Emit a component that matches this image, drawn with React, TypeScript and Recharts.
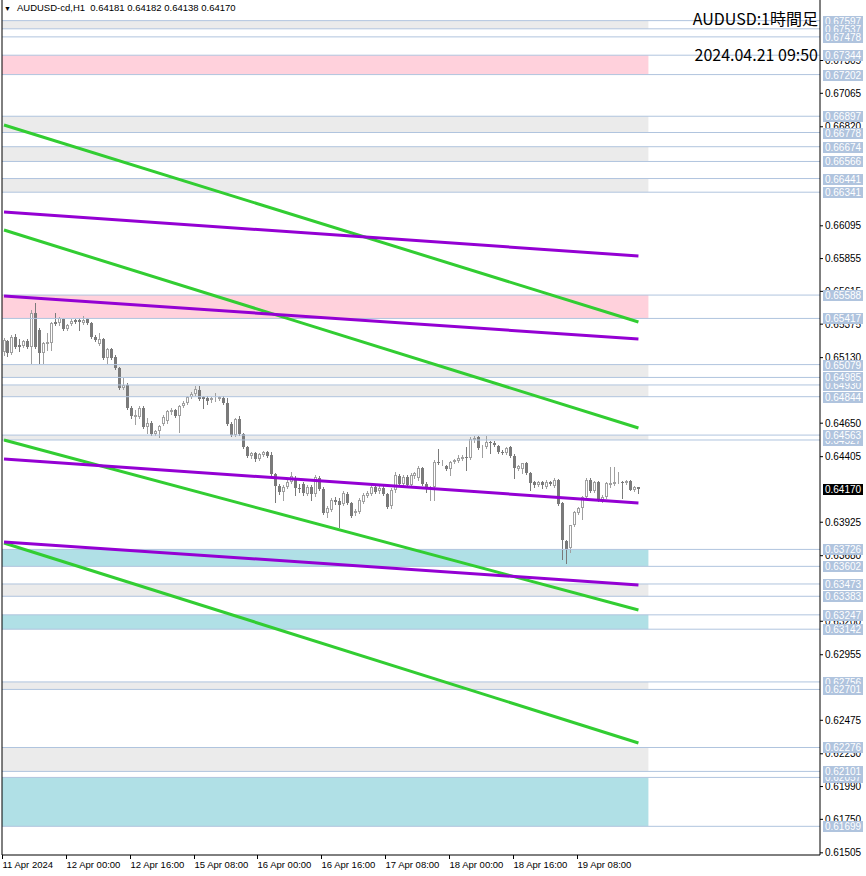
import { ComposedChart, Bar, XAxis, YAxis, ReferenceLine, ReferenceArea } from "recharts"

const FONT = "'Liberation Sans', Arial, sans-serif"

// AUDUSD H1, 11 Apr 08:00 .. 19 Apr 23:00
const opens = [
  0.65171, 0.65252, 0.65164, 0.65281, 0.65222, 0.65215, 0.65252, 0.65208, 0.65457, 0.65332,
  0.65164, 0.6523, 0.65237, 0.65391, 0.65384, 0.65413, 0.6534, 0.65377, 0.65406, 0.65406,
  0.65384, 0.65413, 0.65384, 0.65281, 0.6523, 0.65266, 0.65127, 0.65193, 0.65135, 0.65054,
  0.64907, 0.64929, 0.64761, 0.64696, 0.64696, 0.64761, 0.64623, 0.64652, 0.64571, 0.64593,
  0.64645, 0.64667, 0.64732, 0.64747, 0.64703, 0.64776, 0.64798, 0.64842, 0.64864, 0.64893,
  0.64842, 0.64834, 0.6482, 0.64827, 0.64827, 0.64834, 0.64798, 0.64645, 0.64563, 0.64681,
  0.64571, 0.64476, 0.6441, 0.64432, 0.64388, 0.64417, 0.64439, 0.64417, 0.64279, 0.6419,
  0.64146, 0.64183, 0.64219, 0.64249, 0.64175, 0.64205, 0.64132, 0.64183, 0.64132, 0.64249,
  0.64168, 0.63993, 0.64015, 0.64088, 0.64081, 0.64059, 0.64132, 0.64066, 0.63993, 0.64,
  0.64073, 0.64117, 0.64132, 0.64183, 0.64154, 0.64175, 0.64132, 0.64044, 0.64161, 0.64264,
  0.64205, 0.64257, 0.64197, 0.64264, 0.64249, 0.64322, 0.64205, 0.64175, 0.64183, 0.64366,
  0.64359, 0.64337, 0.64315, 0.64366, 0.64374, 0.64388, 0.64403, 0.64395, 0.64527, 0.64549,
  0.64468, 0.64476, 0.64512, 0.64505, 0.64483, 0.64439, 0.64432, 0.64476, 0.6441, 0.64315,
  0.64315, 0.64359, 0.64286, 0.64219, 0.64197, 0.64219, 0.64183, 0.64219, 0.6419, 0.64234,
  0.64066, 0.63788, 0.63736, 0.63905, 0.63993, 0.64029, 0.6411, 0.64234, 0.64154, 0.64219,
  0.64088, 0.6411, 0.64197, 0.64205, 0.64219, 0.64219, 0.64212, 0.64227, 0.64161, 0.64181,
]
const highs = [
  0.65273, 0.65259, 0.65295, 0.65303, 0.65266, 0.65259, 0.65266, 0.65479, 0.6553, 0.65347,
  0.65244, 0.6531, 0.65391, 0.65457, 0.65428, 0.6542, 0.65377, 0.65413, 0.65413, 0.6542,
  0.65435, 0.6542, 0.65391, 0.65295, 0.6531, 0.65273, 0.652, 0.652, 0.65149, 0.65062,
  0.64981, 0.64944, 0.64776, 0.64747, 0.64776, 0.64776, 0.64688, 0.64667, 0.646, 0.64637,
  0.6471, 0.64747, 0.64761, 0.64754, 0.64783, 0.64813, 0.64849, 0.64878, 0.64922, 0.64922,
  0.64849, 0.64849, 0.64842, 0.64871, 0.64849, 0.64849, 0.64834, 0.64659, 0.64688, 0.64703,
  0.64578, 0.64483, 0.64439, 0.64439, 0.64432, 0.64447, 0.64447, 0.64439, 0.64286, 0.64205,
  0.64197, 0.64234, 0.64293, 0.64264, 0.64205, 0.64219, 0.64197, 0.64197, 0.64271, 0.64264,
  0.64183, 0.64044, 0.64102, 0.6411, 0.64102, 0.64154, 0.64146, 0.64073, 0.64022, 0.64102,
  0.64139, 0.64154, 0.64197, 0.64197, 0.6419, 0.6419, 0.64139, 0.64175, 0.64293, 0.64279,
  0.64271, 0.64271, 0.64286, 0.64293, 0.64337, 0.6433, 0.64219, 0.6419, 0.64381, 0.64461,
  0.64381, 0.64344, 0.64374, 0.64388, 0.64417, 0.64417, 0.64476, 0.64549, 0.64556, 0.64556,
  0.6449, 0.64556, 0.6452, 0.6452, 0.6449, 0.64454, 0.64476, 0.64483, 0.64425, 0.64344,
  0.64359, 0.64366, 0.64293, 0.64227, 0.64227, 0.64227, 0.64234, 0.64227, 0.64249, 0.64242,
  0.64073, 0.63795, 0.63905, 0.64008, 0.64037, 0.64117, 0.64249, 0.64249, 0.64227, 0.64227,
  0.64124, 0.64219, 0.6433, 0.6433, 0.64293, 0.64227, 0.64234, 0.64234, 0.6419, 0.64182,
]
const lows = [
  0.65149, 0.65142, 0.65157, 0.652, 0.65179, 0.65208, 0.652, 0.65091, 0.652, 0.65091,
  0.65091, 0.65186, 0.65186, 0.65369, 0.65369, 0.65332, 0.65332, 0.65369, 0.65384, 0.65332,
  0.65377, 0.65377, 0.65273, 0.65252, 0.65222, 0.6512, 0.65091, 0.6512, 0.65047, 0.649,
  0.649, 0.64754, 0.64688, 0.64645, 0.64688, 0.64615, 0.64578, 0.64563, 0.64563, 0.64549,
  0.64637, 0.64652, 0.64718, 0.64696, 0.64585, 0.64769, 0.64791, 0.64834, 0.64856, 0.6482,
  0.64761, 0.64791, 0.64805, 0.64813, 0.6482, 0.64791, 0.64637, 0.64556, 0.64556, 0.64563,
  0.64468, 0.64403, 0.64395, 0.64374, 0.64381, 0.6441, 0.64403, 0.64271, 0.64073, 0.64132,
  0.64088, 0.64175, 0.64212, 0.64124, 0.64146, 0.64124, 0.64124, 0.64088, 0.64117, 0.64161,
  0.63986, 0.63964, 0.64008, 0.64059, 0.63891, 0.64051, 0.64059, 0.63964, 0.63978, 0.63993,
  0.64066, 0.6411, 0.64124, 0.64139, 0.64139, 0.64124, 0.64029, 0.64029, 0.64146, 0.6419,
  0.64197, 0.6419, 0.6419, 0.64249, 0.64234, 0.64197, 0.64146, 0.64088, 0.64088, 0.64352,
  0.64344, 0.64308, 0.64271, 0.64359, 0.64366, 0.64381, 0.64308, 0.64388, 0.64512, 0.64461,
  0.64403, 0.64468, 0.64432, 0.64483, 0.64432, 0.64425, 0.64425, 0.64403, 0.64249, 0.64308,
  0.64286, 0.64279, 0.64161, 0.64183, 0.6419, 0.64175, 0.64175, 0.64197, 0.64183, 0.64051,
  0.63656, 0.63627, 0.63707, 0.63898, 0.63986, 0.63949, 0.64102, 0.64146, 0.64146, 0.64081,
  0.64073, 0.64102, 0.64183, 0.64197, 0.64212, 0.64102, 0.64205, 0.64161, 0.64154, 0.64138,
]
const closes = [
  0.65259, 0.65164, 0.65281, 0.65208, 0.65208, 0.65252, 0.65208, 0.65457, 0.65208, 0.65164,
  0.65237, 0.65244, 0.65384, 0.65377, 0.6542, 0.6534, 0.65369, 0.65399, 0.65391, 0.65391,
  0.65406, 0.65384, 0.65281, 0.65259, 0.65266, 0.65127, 0.65193, 0.65127, 0.65054, 0.64907,
  0.64929, 0.64761, 0.64703, 0.6471, 0.64761, 0.64623, 0.64652, 0.64571, 0.64593, 0.6463,
  0.64696, 0.6474, 0.64747, 0.64703, 0.64776, 0.64798, 0.64842, 0.64864, 0.649, 0.64827,
  0.64827, 0.64813, 0.64834, 0.64834, 0.64842, 0.64798, 0.64645, 0.64563, 0.64681, 0.64571,
  0.64476, 0.6441, 0.64432, 0.64388, 0.64425, 0.64439, 0.6441, 0.64279, 0.6419, 0.64146,
  0.64183, 0.64219, 0.64264, 0.64175, 0.64168, 0.64139, 0.64183, 0.64132, 0.64257, 0.64168,
  0.63993, 0.64029, 0.64088, 0.64073, 0.64051, 0.64139, 0.64066, 0.63971, 0.64008, 0.64088,
  0.64124, 0.64139, 0.64183, 0.64146, 0.64175, 0.64132, 0.64037, 0.64161, 0.64271, 0.64205,
  0.64257, 0.64197, 0.64271, 0.64286, 0.64322, 0.64205, 0.64175, 0.64183, 0.64366, 0.64359,
  0.64366, 0.64315, 0.64366, 0.64381, 0.64395, 0.64403, 0.64395, 0.64534, 0.64541, 0.64468,
  0.64476, 0.64512, 0.64505, 0.6449, 0.64439, 0.64432, 0.64468, 0.6441, 0.64322, 0.64337,
  0.64359, 0.64286, 0.64212, 0.64197, 0.64219, 0.64197, 0.64219, 0.64205, 0.64234, 0.64059,
  0.63795, 0.63729, 0.63905, 0.64, 0.64029, 0.6411, 0.64234, 0.64154, 0.64219, 0.64088,
  0.6411, 0.64212, 0.64212, 0.64219, 0.64227, 0.64212, 0.64227, 0.64161, 0.64183, 0.6417,
]

const xTickBars = [0, 16, 32, 48, 64, 80, 96, 112, 128, 144]
const xTickLabels = [
  "11 Apr 2024", "12 Apr 00:00", "12 Apr 16:00", "15 Apr 08:00", "16 Apr 00:00",
  "16 Apr 16:00", "17 Apr 08:00", "18 Apr 00:00", "18 Apr 16:00", "19 Apr 08:00",
]
// scale labels that are not completely covered by price tags
const yTicks = [
  0.67305, 0.67065, 0.6682, 0.66095, 0.65855, 0.65615, 0.65375, 0.6513, 0.6465, 0.64405,
  0.63925, 0.6368, 0.632, 0.62955, 0.62475, 0.6223, 0.6199, 0.6175, 0.61505,
]

// zones as [upper, lower]
const grayZones = [
  [0.67597, 0.67537], [0.66897, 0.66778], [0.66674, 0.66566], [0.66441, 0.66341],
  [0.65079, 0.64985], [0.6493, 0.64844], [0.64563, 0.64527], [0.63473, 0.63383],
  [0.62756, 0.62701], [0.62276, 0.62101],
]
const pinkZones = [[0.67344, 0.67202], [0.65588, 0.65417]]
const cyanZones = [[0.63726, 0.63602], [0.63247, 0.63142], [0.62057, 0.61699]]

// horizontal levels, the half hidden ones first
const levels = [
  0.6493, 0.64527, 0.62057,
  0.67597, 0.67537, 0.67478, 0.67344, 0.67202, 0.66897, 0.66778, 0.66674, 0.66566,
  0.66441, 0.66341, 0.65588, 0.65417, 0.65079, 0.64985, 0.64844, 0.64563, 0.63726,
  0.63602, 0.63473, 0.63383, 0.63247, 0.63142, 0.62756, 0.62701, 0.62276, 0.62101, 0.61699,
]

// trend lines: price at first and last bar
const greenStart = [0.66833, 0.66064, 0.64527, 0.63773]
const greenEnd = [0.65391, 0.64615, 0.63283, 0.62309]
const purpleStart = [0.66196, 0.65581, 0.64388, 0.63781]
const purpleEnd = [0.65874, 0.65266, 0.64066, 0.63466]

const lastPrice = 0.6417
const SLOTS = 205
const lastBar = opens.length - 1

const data = Array.from({ length: SLOTS }, (_, i) =>
  i < opens.length ? { i, o: opens[i], h: highs[i], l: lows[i], c: closes[i] } : { i }
)

function Candle(props: any) {
  const { x, y, width, height, payload } = props
  if (!payload || payload.o == null) return null
  const { o, h, l, c } = payload
  const top = Math.min(y, y + height)
  const span = Math.abs(height)
  const py = (p: number) => top + ((h - p) / (h - l)) * span
  const cx = Math.floor(x + width / 2) + 0.5
  const up = c >= o
  const col = up ? "#a0a0a0" : "#7a7a7a"
  const bTop = Math.round(Math.min(py(o), py(c)))
  const bBot = Math.max(Math.round(Math.max(py(o), py(c))), bTop + 1)
  return (
    <g>
      <line x1={cx} x2={cx} y1={Math.round(top)} y2={Math.round(top + span) + 1} stroke={col} strokeWidth={1} />
      {up ? (
        <rect x={cx - 1} y={bTop + 0.5} width={2} height={Math.max(bBot - bTop - 1, 0)} fill="#fff" stroke={col} strokeWidth={1} />
      ) : (
        <rect x={cx - 1.5} y={bTop} width={3} height={bBot - bTop} fill={col} />
      )}
    </g>
  )
}

// price tags drawn as ticks of an extra right axis, so they sit over the scale labels
function TagTick(props: any) {
  const { x, y, payload } = props
  const p = payload.value
  const isLast = p === lastPrice
  const left = x - 43
  const yc = Math.round(y)
  return (
    <g>
      <rect x={left} y={yc - 5} width={40} height={11} fill={isLast ? "#000" : "#b0c4de"} />
      <text x={left + 20} y={yc} dy="0.36em" textAnchor="middle" fill="#fff" fontSize={10} fontFamily={FONT}>
        {p.toFixed(5)}
      </text>
    </g>
  )
}

function XTick(props: any) {
  const { x, payload } = props
  const idx = xTickBars.indexOf(payload.value)
  if (idx < 0) return null
  const tx = Math.round(x) - 1.5
  return (
    <g>
      <line x1={tx} x2={tx} y1={855} y2={859} stroke="#000" />
      <text x={tx} y={868} fill="#000" fontSize={9.5} fontFamily={FONT}>
        {xTickLabels[idx]}
      </text>
    </g>
  )
}

export default function App() {
  const domain: [number, number] = [0.61489, 0.67748]
  return (
    <div style={{ position: "absolute", left: 0, top: 0, width: 866, height: 876, background: "#fff", overflow: "hidden" }}>
      <ComposedChart width={867} height={876} data={data} margin={{ top: 0, right: 0, bottom: 0, left: 0 }} barCategoryGap={0}>
        <XAxis dataKey="i" type="category" ticks={xTickBars} interval={0} height={21} tickLine={false} tickSize={0} tick={<XTick />} axisLine={{ stroke: "#000" }} />
        <YAxis yAxisId="edge" orientation="left" width={2} domain={domain} allowDataOverflow tick={false} tickLine={false} axisLine={{ stroke: "#000" }} />
        <YAxis
          orientation="right"
          width={46}
          type="number"
          domain={domain}
          allowDataOverflow
          ticks={yTicks}
          interval={0}
          tickSize={3}
          tickMargin={2}
          tickFormatter={(v: number) => v.toFixed(5)}
          tick={{ fontSize: 10, fill: "#000", fontFamily: FONT }}
          tickLine={{ stroke: "#000" }}
          axisLine={{ stroke: "#000" }}
        />
        <YAxis
          yAxisId="tags"
          orientation="right"
          width={1}
          type="number"
          domain={domain}
          allowDataOverflow
          ticks={[...levels, lastPrice]}
          interval={0}
          tickSize={0}
          tickMargin={0}
          tickLine={false}
          axisLine={false}
          tick={<TagTick />}
        />
        {grayZones.map(([hi, lo], n) => (
          <ReferenceArea key={"g" + n} x1={0} x2={161} y1={lo} y2={hi} fill="#ebebeb" fillOpacity={1} stroke="none" ifOverflow="visible" />
        ))}
        {pinkZones.map(([hi, lo], n) => (
          <ReferenceArea key={"p" + n} x1={0} x2={161} y1={lo} y2={hi} fill="#ffd1dc" fillOpacity={1} stroke="none" ifOverflow="visible" />
        ))}
        {cyanZones.map(([hi, lo], n) => (
          <ReferenceArea key={"c" + n} x1={0} x2={161} y1={lo} y2={hi} fill="#b0e0e6" fillOpacity={1} stroke="none" ifOverflow="visible" />
        ))}
        {levels.map((p) => (
          <ReferenceLine key={"l" + p} y={p} stroke="#b0c4de" strokeWidth={1} />
        ))}
        <Bar dataKey={(d: any) => (d.o == null ? undefined : [d.l, d.h])} shape={<Candle />} isAnimationActive={false} />
        {greenStart.map((p, n) => (
          <ReferenceLine
            key={"gr" + n}
            segment={[{ x: 0, y: p }, { x: lastBar, y: greenEnd[n] }]}
            stroke="#32cd32"
            strokeWidth={3}
            ifOverflow="visible"
          />
        ))}
        {purpleStart.map((p, n) => (
          <ReferenceLine
            key={"pu" + n}
            segment={[{ x: 0, y: p }, { x: lastBar, y: purpleEnd[n] }]}
            stroke="#9400d3"
            strokeWidth={3}
            ifOverflow="visible"
          />
        ))}
      </ComposedChart>
      <div style={{ position: "absolute", left: 4, top: 2, fontFamily: FONT, fontSize: 9.5, lineHeight: "12px", whiteSpace: "pre", color: "#000" }}>
        <span style={{ fontSize: 7, marginRight: 6 }}>▼</span>AUDUSD-cd,H1  0.64181 0.64182 0.64138 0.64170
      </div>
      <div style={{ position: "absolute", right: 48, top: 7, fontFamily: "'Noto Sans CJK JP', sans-serif", fontSize: 16, lineHeight: "22px", color: "#000" }}>
        AUDUSD:1時間足
      </div>
      <div style={{ position: "absolute", right: 48, top: 43, fontFamily: "'Noto Sans CJK JP', sans-serif", fontSize: 16, lineHeight: "22px", color: "#000" }}>
        2024.04.21 09:50
      </div>
    </div>
  )
}
